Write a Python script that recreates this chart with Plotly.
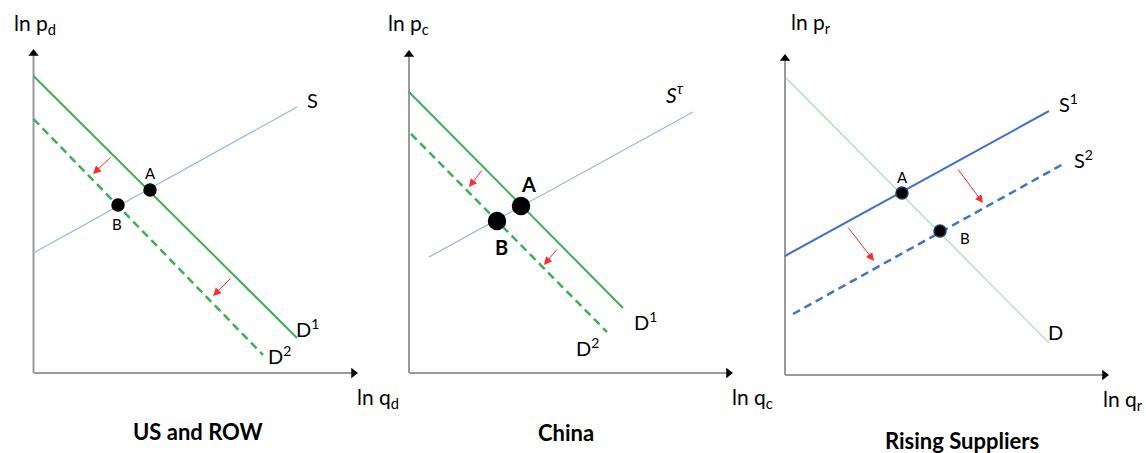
import plotly.graph_objects as go

# ---------------- data (units: arbitrary ln-q / ln-p units) ----------------
panel_titles = ["US and ROW", "China", "Rising Suppliers"]
y_labels = ["ln p<sub>d</sub>", "ln p<sub>c</sub>", "ln p<sub>r</sub>"]
x_labels = ["ln q<sub>d</sub>", "ln q<sub>c</sub>", "ln q<sub>r</sub>"]
axis_x_end = [32.45, 32.4, 32.4]
axis_y_end = [32.4, 32.3, 32.1]

# Panel 1: US and ROW
p1_D1_q = [0.0, 26.35]; p1_D1_p = [29.7, 3.5]
p1_D2_q = [0.0, 22.95]; p1_D2_p = [25.4, 1.8]
p1_S_q = [0.0, 26.35];  p1_S_p = [12.0, 26.6]
p1_pts_q = [11.65, 8.45]; p1_pts_p = [18.3, 16.8]
p1_arrows = [((7.85, 21.7), (5.95, 19.9)), ((19.85, 9.6), (17.95, 7.7))]

# Panel 2: China
p2_D1_q = [0.0, 21.4]; p2_D1_p = [28.1, 6.5]
p2_D2_q = [0.2, 19.8]; p2_D2_p = [23.9, 4.1]
p2_S_q = [2.0, 28.4];  p2_S_p = [11.6, 26.1]
p2_pts_q = [11.2, 8.8]; p2_pts_p = [16.7, 15.2]
p2_arrows = [((7.4, 20.4), (6.0, 18.6)), ((14.9, 12.5), (13.5, 10.8))]

# Panel 3: Rising Suppliers
p3_D_q = [0.1, 26.4];  p3_D_p = [29.7, 3.2]
p3_S1_q = [0.0, 26.4]; p3_S1_p = [11.9, 26.4]
p3_S2_q = [0.8, 28.0]; p3_S2_p = [6.1, 21.2]
p3_pts_q = [11.7, 15.5]; p3_pts_p = [18.2, 14.4]
p3_arrows = [((17.2, 20.7), (19.8, 17.2)), ((6.2, 14.9), (8.9, 11.4))]

# ---------------- layout helpers ----------------
W, H = 1146, 453
PX = 10.0  # pixels per unit
origins = [(33.5, 373), (409, 373), (785, 375)]
panel_px = [(0, 380), (380, 760), (760, 1146)]
FONT = "Lato"
GREEN = "#3daf55"
LBLUE = "#9bb5e0"
BLUE = "#4472c4"
LGREEN = "#a8dcb2"
AXIS = "#9a9a9a"
RED = "#ff2a2a"

fig = go.Figure()
layout_axes = {}
annotations = []

for i in range(3):
    ox, oy = origins[i]
    L, R = panel_px[i]
    sfx = "" if i == 0 else str(i + 1)
    layout_axes["xaxis" + sfx] = dict(domain=[L / W, R / W], range=[(L - ox) / PX, (R - ox) / PX],
                                      visible=False, fixedrange=True, anchor="y" + sfx)
    layout_axes["yaxis" + sfx] = dict(domain=[0, 1], range=[(oy - H) / PX, oy / PX],
                                      visible=False, fixedrange=True, anchor="x" + sfx)

xr = ["x", "x2", "x3"]
yr = ["y", "y2", "y3"]

def line(i, q, p, color, width, dash="solid"):
    fig.add_trace(go.Scatter(x=q, y=p, mode="lines", xaxis=xr[i], yaxis=yr[i],
                             line=dict(color=color, width=width, dash=dash),
                             hoverinfo="skip", showlegend=False))

def dots(i, q, p, size, edge="black"):
    fig.add_trace(go.Scatter(x=q, y=p, mode="markers", xaxis=xr[i], yaxis=yr[i],
                             marker=dict(color="black", size=size, line=dict(color=edge, width=1.5)),
                             hoverinfo="skip", showlegend=False, cliponaxis=False))

def label(i, x, y, text, size=19, bold=False, color="black"):
    t = "<b>" + text + "</b>" if bold else text
    annotations.append(dict(x=x, y=y, xref=xr[i], yref=yr[i], text=t, showarrow=False,
                            font=dict(family=FONT, size=size, color=color),
                            xanchor="center", yanchor="middle"))

def red_arrow(i, start, end):
    annotations.append(dict(x=end[0], y=end[1], ax=start[0], ay=start[1],
                            xref=xr[i], yref=yr[i], axref=xr[i], ayref=yr[i],
                            text="", showarrow=True, arrowhead=2, arrowsize=1.6,
                            arrowwidth=1, arrowcolor=RED, standoff=0))

# axes with arrowheads
for i in range(3):
    xe, ye = axis_x_end[i], axis_y_end[i]
    line(i, [0, xe - 0.5], [0, 0], AXIS, 2)
    line(i, [0, 0], [0, ye - 0.5], AXIS, 2)
    fig.add_trace(go.Scatter(x=[xe - 0.45], y=[0], mode="markers", xaxis=xr[i], yaxis=yr[i],
                             marker=dict(symbol="triangle-right", size=9, color="black"),
                             hoverinfo="skip", showlegend=False, cliponaxis=False))
    fig.add_trace(go.Scatter(x=[0], y=[ye - 0.45], mode="markers", xaxis=xr[i], yaxis=yr[i],
                             marker=dict(symbol="triangle-up", size=9, color="black"),
                             hoverinfo="skip", showlegend=False, cliponaxis=False))

# Panel 1
line(0, p1_S_q, p1_S_p, LBLUE, 1.2)
line(0, p1_D1_q, p1_D1_p, GREEN, 2)
line(0, p1_D2_q, p1_D2_p, GREEN, 2.5, dash="8px,5px")
dots(0, p1_pts_q, p1_pts_p, 12)
for s, e in p1_arrows:
    red_arrow(0, s, e)
label(0, 27.85, 27.3, "S", 20)
label(0, 27.35, 4.5, "D<sup>1</sup>", 20)
label(0, 24.55, 1.8, "D<sup>2</sup>", 20)
label(0, 11.7, 20.0, "A", 15)
label(0, 8.3, 14.9, "B", 15)

# Panel 2
line(1, p2_S_q, p2_S_p, LBLUE, 1.2)
line(1, p2_D1_q, p2_D1_p, GREEN, 2)
line(1, p2_D2_q, p2_D2_p, GREEN, 2.5, dash="8px,5px")
dots(1, p2_pts_q, p2_pts_p, 17)
for s, e in p2_arrows:
    red_arrow(1, s, e)
label(1, 26.6, 28.0, "<i>S<sup>τ</sup></i>", 21)
label(1, 23.6, 5.2, "D<sup>1</sup>", 20)
label(1, 17.8, 2.6, "D<sup>2</sup>", 20)
label(1, 11.9, 18.9, "A", 20, bold=True)
label(1, 9.2, 12.6, "B", 20, bold=True)

# Panel 3
line(2, p3_D_q, p3_D_p, LGREEN, 1.2)
line(2, p3_S1_q, p3_S1_p, BLUE, 2)
line(2, p3_S2_q, p3_S2_p, BLUE, 2.5, dash="8px,5px")
dots(2, p3_pts_q, p3_pts_p, 12, edge="#1f3864")
for s, e in p3_arrows:
    red_arrow(2, s, e)
label(2, 28.3, 27.2, "S<sup>1</sup>", 20)
label(2, 29.8, 21.6, "S<sup>2</sup>", 20)
label(2, 27.0, 4.3, "D", 20)
label(2, 11.7, 19.8, "A", 15)
label(2, 18.0, 13.7, "B", 15)

# axis labels and titles
y_label_pos = [(0.15, 34.9), (-0.1, 34.9), (2.6, 35.2)]
x_label_pos = [(34.45, -2.5), (34.3, -2.5), (33.8, -2.5)]
title_pos = [(16.45, -5.8), (15.7, -5.9), (17.65, -6.5)]
for i in range(3):
    label(i, *y_label_pos[i], y_labels[i], 21)
    label(i, *x_label_pos[i], x_labels[i], 21)
    label(i, *title_pos[i], panel_titles[i], 22, bold=True)

fig.update_layout(width=W, height=H, margin=dict(l=0, r=0, t=0, b=0),
                  paper_bgcolor="white", plot_bgcolor="white",
                  showlegend=False, annotations=annotations, **layout_axes)

fig.write_html("out.html", config={"displayModeBar": False},
               post_script="document.body.style.margin='0px';document.body.style.overflow='hidden';")
